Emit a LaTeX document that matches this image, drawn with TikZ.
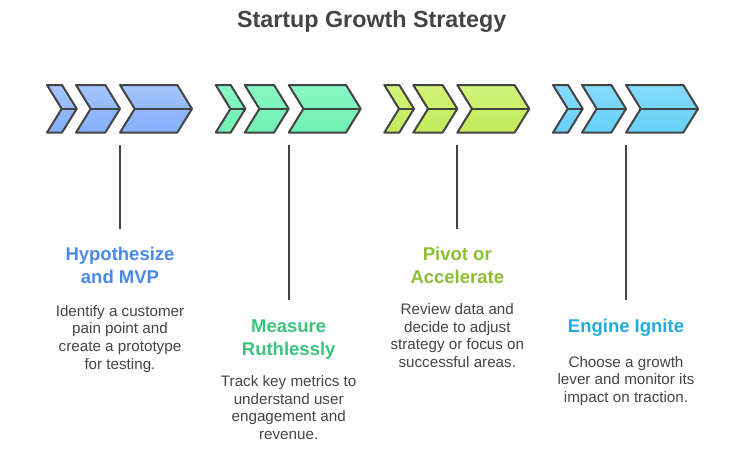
\documentclass[tikz,border=0pt]{standalone}
\usepackage{fontspec}
\setmainfont{Liberation Sans}
\usepackage{tikz}
\usetikzlibrary{positioning}

\definecolor{ink}{HTML}{444444}
\definecolor{bodyink}{HTML}{454545}
\definecolor{blueT}{HTML}{4A8AE6}
\definecolor{greenT}{HTML}{3CC47D}
\definecolor{limeT}{HTML}{8CBE32}
\definecolor{cyanT}{HTML}{22AADC}
\definecolor{blueA}{RGB}{165,198,255}
\definecolor{blueB}{RGB}{132,174,250}
\definecolor{greenA}{RGB}{136,248,198}
\definecolor{greenB}{RGB}{112,240,180}
\definecolor{limeA}{RGB}{212,244,124}
\definecolor{limeB}{RGB}{192,235,90}
\definecolor{cyanA}{RGB}{134,220,252}
\definecolor{cyanB}{RGB}{102,208,248}

% one chevron: left x, top width, style
\newcommand{\chevron}[3]{%
  \draw[#3] (#1,85) -- ++(#2,0) -- ++(14.7,23.8) -- ++(-14.7,23.8) -- ++(-#2,0) -- ++(14.7,-23.8) -- cycle;
  \draw[chevline] (#1+14.7,108.8) -- ++(#2,0);}

\begin{document}
\begin{tikzpicture}[x=1pt, y=-1pt,
    chevline/.style={draw=ink, line width=2pt, line join=round},
    bluechev/.style={chevline, top color=blueA, bottom color=blueB},
    greenchev/.style={chevline, top color=greenA, bottom color=greenB},
    limechev/.style={chevline, top color=limeA, bottom color=limeB},
    cyanchev/.style={chevline, top color=cyanA, bottom color=cyanB},
    stem/.style={draw=ink, line width=1.8pt},
    head/.style={font=\fontsize{18.5}{23}\selectfont\bfseries, align=center, inner sep=0pt},
    body/.style={font=\fontsize{15.2}{17.6}\selectfont, text=bodyink, align=center, inner sep=0pt}]
  \useasboundingbox (0,0) rectangle (744,469);

  \node[font=\fontsize{23.3}{28}\selectfont\bfseries, text=ink, anchor=base] (title) at (371.7,27.5) {Startup Growth Strategy};

  % chevron rows
  \chevron{47}{15}{bluechev}
  \chevron{76}{29.3}{bluechev}
  \chevron{120}{57.3}{bluechev}
  \chevron{215.7}{15}{greenchev}
  \chevron{244.7}{29.3}{greenchev}
  \chevron{288.7}{57.3}{greenchev}
  \chevron{384.3}{15}{limechev}
  \chevron{413.3}{29.3}{limechev}
  \chevron{457.3}{57.3}{limechev}
  \chevron{553}{15}{cyanchev}
  \chevron{582}{29.3}{cyanchev}
  \chevron{626}{57.3}{cyanchev}

  % stems
  \coordinate (s1) at (120,145);
  \coordinate (e1) at (120,229);
  \coordinate (s2) at (288.7,145);
  \coordinate (e2) at (288.7,300);
  \coordinate (s3) at (457.3,145);
  \coordinate (e3) at (457.3,229);
  \coordinate (s4) at (626,145);
  \coordinate (e4) at (626,300);
  \draw[stem] (s1) -- (e1);
  \draw[stem] (s2) -- (e2);
  \draw[stem] (s3) -- (e3);
  \draw[stem] (s4) -- (e4);

  % labels
  \node[head, text=blueT] (h1) [below=18pt of e1] {Hypothesize\\and MVP};
  \node[body] (b1) [below=58pt of h1.north] {Identify a customer\\pain point and\\create a prototype\\for testing.};
  \node[head, text=greenT] (h2) [below=19.5pt of e2] {Measure\\Ruthlessly};
  \node[body] (b2) [below=56pt of h2.north] {Track key metrics to\\understand user\\engagement and\\revenue.};
  \node[head, text=limeT] (h3) [below=17.5pt of e3] {Pivot or\\Accelerate};
  \node[body] (b3) [below=57pt of h3.north] {Review data and\\decide to adjust\\strategy or focus on\\successful areas.};
  \node[head, text=cyanT] (h4) [below=19pt of e4] {Engine Ignite};
  \node[body] (b4) [below=37pt of h4.north] {Choose a growth\\lever and monitor its\\impact on traction.};
\end{tikzpicture}
\end{document}
